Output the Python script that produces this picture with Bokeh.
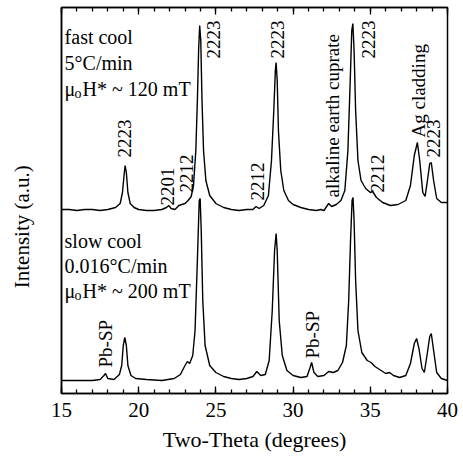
import numpy as np
from bokeh.plotting import figure
from bokeh.models import LinearAxis, SingleIntervalTicker, FixedTicker, Range1d, CustomJSTickFormatter
from bokeh.core.properties import value
from bokeh.embed import file_html
from bokeh.resources import INLINE

# ---------------- data ----------------
fast_x = [15.0, 15.5, 16.0, 16.5, 17.0, 17.5, 18.0, 18.5, 18.8, 18.95, 19.05, 19.12, 19.2, 19.3, 19.45,
          19.7, 20.0, 20.5, 21.0, 21.5, 21.8, 21.95, 22.1, 22.35, 22.6, 22.8, 23.0, 23.2, 23.4, 23.55,
          23.7, 23.8, 23.88, 23.95, 24.02, 24.1, 24.2, 24.35, 24.6, 25.0, 25.5, 26.0, 26.5, 27.0, 27.4,
          27.6, 27.8, 28.1, 28.4, 28.6, 28.75, 28.85, 28.9, 28.97, 29.05, 29.2, 29.4, 29.7, 30.0, 30.5,
          31.0, 31.5, 31.8, 32.0, 32.3, 32.5, 32.8, 33.1, 33.35, 33.55, 33.7, 33.8, 33.87, 33.95, 34.05,
          34.2, 34.4, 34.7, 35.0, 35.15, 35.4, 35.8, 36.3, 36.8, 37.3, 37.6, 37.85, 38.05, 38.2, 38.4,
          38.55, 38.7, 38.85, 38.95, 39.1, 39.3, 39.6, 40.0]
fast_y = [184, 184, 183, 184, 184, 183, 184, 186, 190, 201, 218, 228, 221, 201, 190,
          186, 184, 183, 183, 184, 186, 188, 185, 184, 188, 189, 190, 193, 197, 208,
          243, 293, 343, 368, 353, 293, 243, 213, 198, 190, 186, 184, 183, 184, 184,
          187, 185, 188, 198, 233, 283, 323, 331, 313, 263, 223, 203, 193, 189, 186,
          184, 183, 184, 183, 190, 187, 189, 193, 203, 243, 313, 363, 370, 343, 283,
          233, 213, 205, 201, 202, 196, 191, 188, 189, 193, 208, 238, 251, 233, 201,
          197, 213, 230, 231, 213, 195, 191, 191]

slow_x = [15.0, 16.0, 17.0, 17.5, 17.75, 17.85, 18.0, 18.4, 18.75, 18.9, 19.0, 19.1, 19.2, 19.3, 19.5,
          19.8, 20.5, 21.5, 22.3, 22.7, 23.0, 23.15, 23.3, 23.5, 23.65, 23.8, 23.92, 23.98, 24.05, 24.15,
          24.3, 24.6, 25.0, 25.5, 26.0, 26.5, 27.0, 27.4, 27.65, 27.9, 28.2, 28.45, 28.65, 28.8, 28.9,
          28.97, 29.1, 29.3, 29.6, 30.0, 30.5, 30.9, 31.1, 31.2, 31.35, 31.6, 32.0, 32.3, 32.6, 32.9,
          33.2, 33.45, 33.6, 33.72, 33.82, 33.88, 33.95, 34.05, 34.2, 34.45, 34.8, 35.05, 35.3, 35.7, 36.0,
          36.25, 36.5, 36.9, 37.3, 37.6, 37.85, 38.0, 38.15, 38.35, 38.5, 38.7, 38.85, 38.95, 39.1, 39.3,
          39.6, 40.0]
slow_y = [13, 13, 13, 14, 18, 20, 15, 14, 19, 28, 48, 56, 48, 28, 18,
          15, 14, 13, 15, 19, 28, 32, 30, 38, 63, 133, 193, 195, 163, 93,
          48, 28, 21, 17, 15, 14, 15, 17, 22, 18, 19, 33, 83, 143, 160,
          143, 73, 38, 23, 18, 16, 17, 26, 31, 21, 17, 18, 22, 21, 23,
          31, 48, 93, 153, 193, 196, 173, 113, 63, 41, 33, 31, 27, 23, 20,
          21, 18, 16, 18, 30, 50, 55, 45, 25, 21, 41, 57, 60, 43, 21,
          15, 13]

# rotated peak labels: text, x (deg), y (start of text)
peak_text = ["2223", "2201", "2212", "2223", "2212", "2223", "alkaline earth cuprate",
             "2223", "2212", "Ag cladding", "2223", "Pb-SP", "Pb-SP"]
peak_x = [19.05, 21.87, 23.12, 24.85, 27.7, 28.99, 32.55, 34.88, 35.47, 38.12, 39.09, 17.85, 31.26]
peak_y = [236, 188, 201, 335, 193, 335, 196, 335, 201, 256, 236, 26, 35]

x_ticks_step = 5
x_range = (15, 40)
y_range = (0, 386)

FONT = "Liberation Serif"

p = figure(width=463, height=470, output_backend="svg", toolbar_location=None,
           x_range=Range1d(*x_range), y_range=Range1d(*y_range),
           min_border_left=61, min_border_right=16, min_border_top=7, min_border_bottom=77)
p.background_fill_color = "white"
p.border_fill_color = "white"
p.outline_line_color = "black"
p.outline_line_width = 1.5
p.xgrid.visible = False
p.ygrid.visible = False

p.line(fast_x, fast_y, line_color="black", line_width=1.4)
p.line(slow_x, slow_y, line_color="black", line_width=1.4)

# bottom axis
xa = p.xaxis[0]
xa.ticker = SingleIntervalTicker(interval=x_ticks_step, num_minor_ticks=5)
xa.major_tick_in = 7
xa.major_tick_out = 0
xa.minor_tick_in = 4
xa.minor_tick_out = 0
xa.axis_line_width = 1.5
xa.major_tick_line_width = 1.3
xa.minor_tick_line_width = 1.3
xa.major_label_text_font = FONT
xa.major_label_text_font_size = "21px"
xa.major_label_text_color = "black"
xa.major_label_standoff = 9
xa.axis_label = "Two-Theta (degrees)"
xa.axis_label_text_font = FONT
xa.axis_label_text_font_size = "22px"
xa.axis_label_text_font_style = "normal"
xa.axis_label_text_color = "black"
xa.axis_label_standoff = 7

# top axis (ticks only)
ta = LinearAxis(ticker=SingleIntervalTicker(interval=x_ticks_step, num_minor_ticks=5),
                formatter=CustomJSTickFormatter(code="return ''"))
ta.major_tick_in = 7
ta.major_tick_out = 0
ta.minor_tick_in = 4
ta.minor_tick_out = 0
ta.axis_line_width = 1.5
ta.major_tick_line_width = 1.3
ta.minor_tick_line_width = 1.3
ta.major_label_standoff = 0
p.add_layout(ta, "above")

# left axis (line + title only); trailing no-break spaces push the title lower like the reference
ya = p.yaxis[0]
ya.ticker = FixedTicker(ticks=[])
ya.major_tick_in = 0
ya.major_tick_out = 0
ya.minor_tick_in = 0
ya.minor_tick_out = 0
ya.axis_line_width = 1.5
ya.axis_label = "Intensity (a.u.)" + "\u00a0" * 10
ya.axis_label_text_font = FONT
ya.axis_label_text_font_size = "21px"
ya.axis_label_text_font_style = "normal"
ya.axis_label_text_color = "black"
ya.axis_label_standoff = 28

# rotated peak labels
p.text(x=peak_x, y=peak_y, text=peak_text, angle=np.pi / 2, text_align="left",
       text_baseline="middle", text_font=value(FONT), text_font_size="19px", text_color="black")

# condition labels
cond_x = [15.2, 15.2]
line1 = ["fast cool", "slow cool"]
line1_y = [357, 153]
line2 = ["5\u00b0C/min", "0.016\u00b0C/min"]
line2_y = [331, 128]
field = ["H* ~ 120 mT", "H* ~ 200 mT"]
field_y = [305, 103]

p.text(x=cond_x, y=line1_y, text=line1, text_font=value(FONT), text_font_size="20px",
       text_baseline="alphabetic", text_align="left")
p.text(x=cond_x, y=line2_y, text=line2, text_font=value(FONT), text_font_size="20px",
       text_baseline="alphabetic", text_align="left")
p.text(x=cond_x, y=field_y, text=["\u03bc", "\u03bc"], text_font=value(FONT), text_font_size="20px",
       text_baseline="alphabetic", text_align="left")
p.text(x=cond_x, y=field_y, text=["o", "o"], x_offset=10, y_offset=5, text_font=value(FONT),
       text_font_size="14px", text_baseline="alphabetic", text_align="left")
p.text(x=cond_x, y=field_y, text=field, x_offset=18, text_font=value(FONT), text_font_size="20px",
       text_baseline="alphabetic", text_align="left")

open("out.html", "w").write(file_html(p, INLINE))
